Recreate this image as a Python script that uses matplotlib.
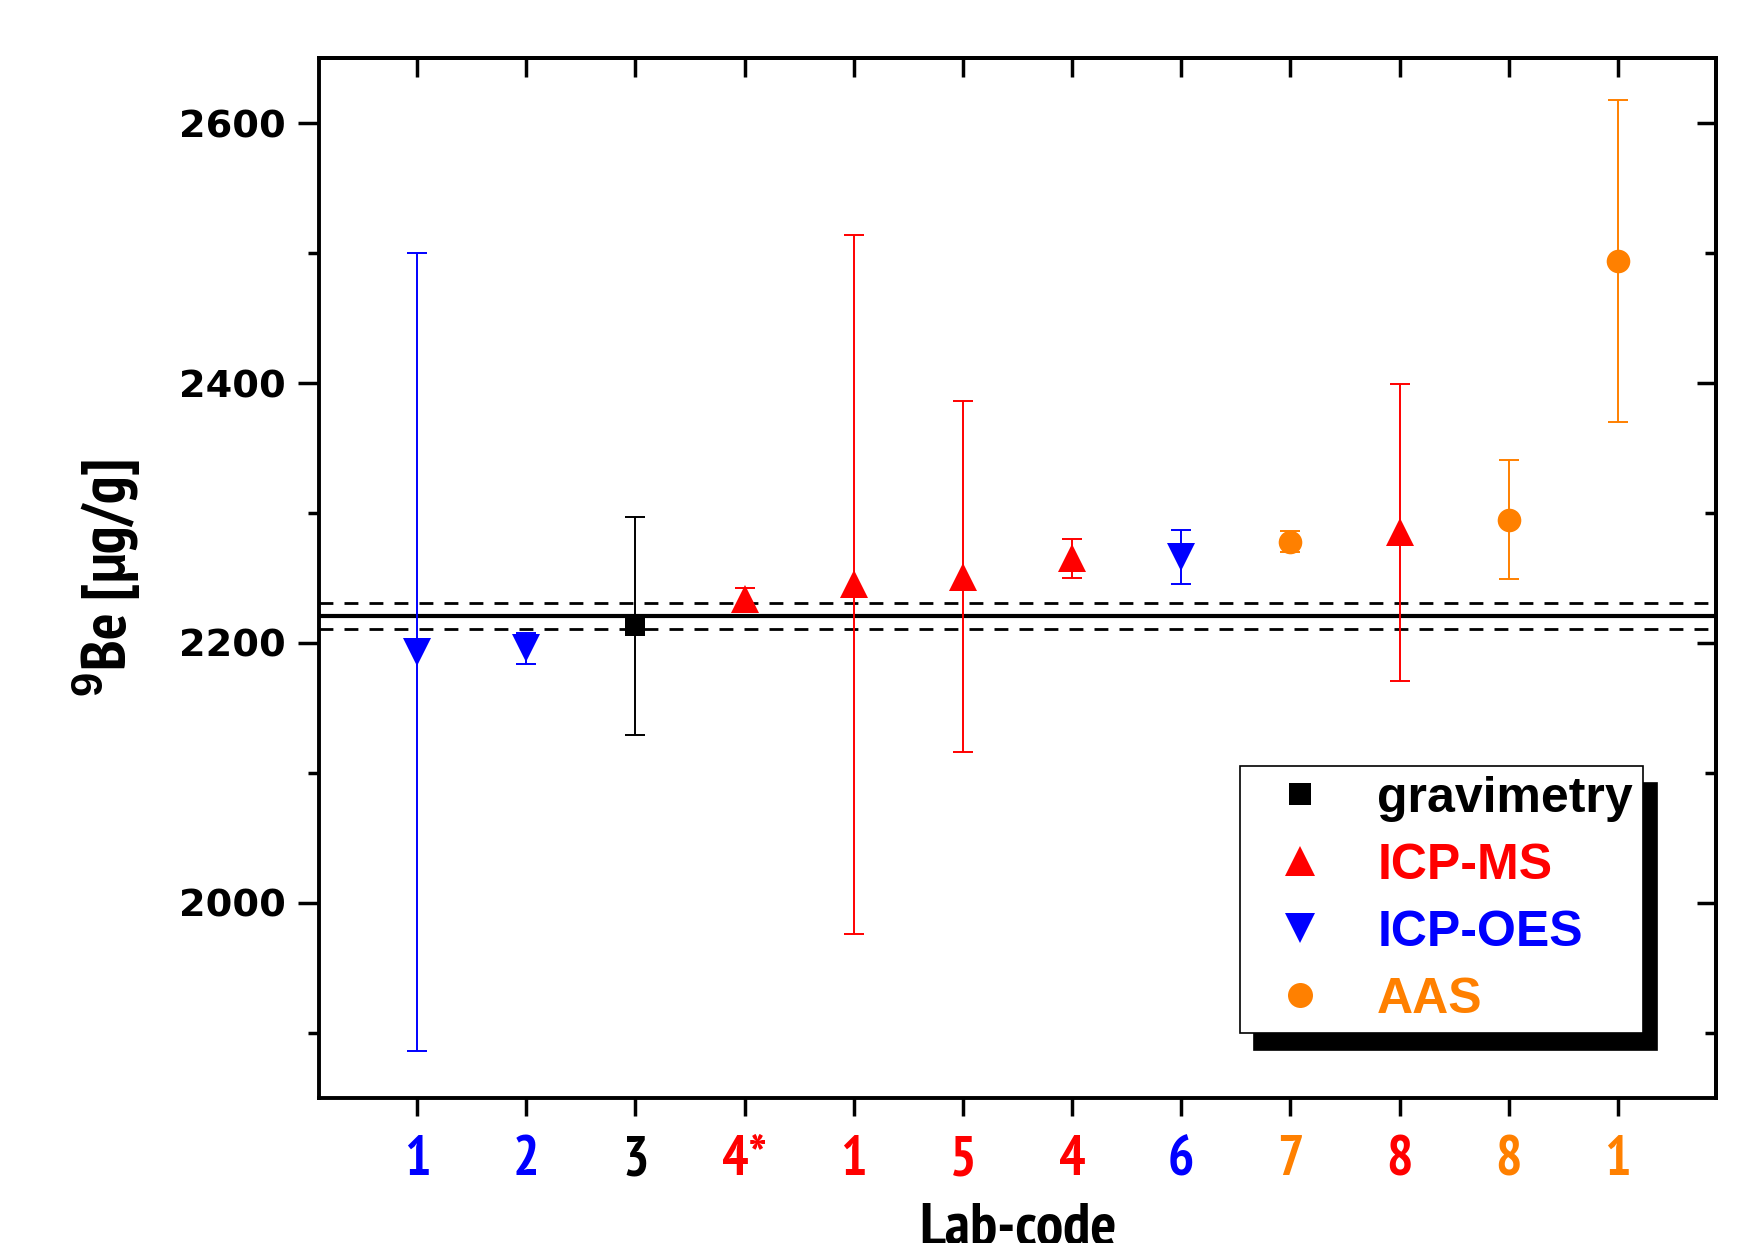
import matplotlib
matplotlib.use("Agg")
import matplotlib.pyplot as plt
from matplotlib.lines import Line2D
from matplotlib.ticker import MultipleLocator
import logging
logging.getLogger("matplotlib.font_manager").setLevel(logging.ERROR)

# ---- data ----
lab_codes = ["1", "2", "3", "4*", "1", "5", "4", "6", "7", "8", "8", "1"]
methods = ["ICP-OES", "ICP-OES", "gravimetry", "ICP-MS", "ICP-MS", "ICP-MS",
           "ICP-MS", "ICP-OES", "AAS", "ICP-MS", "AAS", "AAS"]
values = [2193, 2196, 2213, 2234, 2245, 2251, 2265, 2266, 2278, 2285, 2295, 2494]
errors = [307, 12, 84, 8, 269, 135, 15, 21, 8, 114, 46, 124]
ref_value = 2221
ref_unc = 10

method_order = ["gravimetry", "ICP-MS", "ICP-OES", "AAS"]
method_color = {"gravimetry": "black", "ICP-MS": "#FF0000", "ICP-OES": "#0000FF", "AAS": "#FF8000"}
method_marker = {"gravimetry": "s", "ICP-MS": "^", "ICP-OES": "v", "AAS": "o"}
method_msize = {"gravimetry": 15, "ICP-MS": 20, "ICP-OES": 20, "AAS": 17}

narrow = ["Liberation Sans Narrow", "PT Sans Narrow", "Roboto Condensed", "Liberation Sans", "DejaVu Sans"]
wide = ["DejaVu Sans", "Liberation Sans"]

plt.rcParams["mathtext.fontset"] = "custom"
plt.rcParams["mathtext.bf"] = "Liberation Sans:bold"
plt.rcParams["mathtext.rm"] = "Liberation Sans:bold"

fig = plt.figure(figsize=(17.61, 12.43), dpi=100)
ax = fig.add_axes([0.1811, 0.1167, 0.7934, 0.8366])

positions = list(range(1, len(values) + 1))
for x, v, e, m in zip(positions, values, errors, methods):
    c = method_color[m]
    cont = ax.errorbar([x], [v], yerr=[e], fmt=method_marker[m], color=c, ecolor=c,
                       markersize=method_msize[m], elinewidth=1.4, capsize=7, capthick=1.4,
                       zorder=3)
    cont[0].set_markeredgewidth(0)

ax.axhline(ref_value, color="black", lw=3, zorder=2)
ax.axhline(ref_value + ref_unc, color="black", lw=2, ls=(0, (5, 4)), zorder=2)
ax.axhline(ref_value - ref_unc, color="black", lw=2, ls=(0, (5, 4)), zorder=2)

ax.set_xlim(0.1, 12.9)
ax.set_ylim(1850, 2650)

ax.set_xticks(positions)
ax.set_xticklabels(lab_codes, fontfamily=narrow, fontweight="bold", fontsize=40)
for lbl, m in zip(ax.get_xticklabels(), methods):
    lbl.set_color(method_color[m])

ax.yaxis.set_major_locator(MultipleLocator(200))
ax.yaxis.set_minor_locator(MultipleLocator(100))
ax.tick_params(axis="y", which="major", direction="out", length=15, width=2.5,
               labelsize=27.5, pad=9)
ax.tick_params(axis="y", which="minor", direction="out", length=8, width=2.5)
ax.tick_params(axis="x", which="major", direction="out", length=13, width=2.5, pad=14)
ax.tick_params(top=False, right=False)
for lbl in ax.get_yticklabels():
    lbl.set_fontweight("bold")
    lbl.set_fontfamily(wide)

# inward ticks on top & right
sec = ax.secondary_xaxis("top")
sec.set_xticks(positions)
sec.tick_params(direction="in", length=14, width=2.5, labeltop=False)
sec.set_xticklabels([])
secy = ax.secondary_yaxis("right")
secy.yaxis.set_major_locator(MultipleLocator(200))
secy.yaxis.set_minor_locator(MultipleLocator(100))
secy.tick_params(which="major", direction="in", length=14, width=2.5, labelright=False)
secy.tick_params(which="minor", direction="in", length=8, width=2.5)
for sp in ["left", "right", "top", "bottom"]:
    ax.spines[sp].set_linewidth(2.8)
sec.spines["top"].set_linewidth(2.8)
secy.spines["right"].set_linewidth(2.8)

ax.set_xlabel("Lab-code", fontfamily=narrow, fontweight="bold", fontsize=44, labelpad=12)
ax.set_ylabel(r"$^{9}$Be [µg/g]", fontfamily=narrow, fontweight="bold", fontsize=45, labelpad=26)

handles = [Line2D([], [], ls="none", marker=method_marker[m], color=method_color[m],
                  markersize=method_msize[m] + 1, markeredgewidth=0) for m in method_order]
leg = ax.legend(handles, method_order, loc="lower left", bbox_to_anchor=(0.659, 0.0625),
                borderaxespad=0, frameon=True, fancybox=False,
                shadow={"color": "black", "alpha": 1, "ox": 10, "oy": -12},
                prop={"family": "Liberation Sans", "weight": "bold", "size": 36},
                handlelength=2.0, handletextpad=0.55, labelspacing=0.42, borderpad=0.2)
leg.get_frame().set_edgecolor("black")
leg.get_frame().set_linewidth(1.2)
for t, m in zip(leg.get_texts(), method_order):
    t.set_color(method_color[m])

fig.savefig("out.png", dpi=100)
